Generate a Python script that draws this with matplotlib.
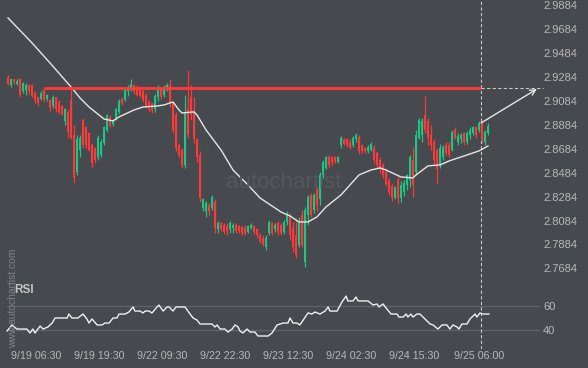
import matplotlib
matplotlib.use("Agg")
import matplotlib.pyplot as plt
from matplotlib.lines import Line2D

# Velas de 30 min (precio), indice = posicion de la vela
opens = [
    2.928, 2.921, 2.926, 2.922, 2.926, 2.916, 2.917, 2.921, 2.921, 2.915,
    2.911, 2.910, 2.917, 2.910, 2.909, 2.904, 2.911, 2.907, 2.904, 2.891,
    2.899, 2.909, 2.880, 2.849, 2.867, 2.892, 2.886, 2.881, 2.871, 2.869,
    2.861, 2.863, 2.873, 2.884, 2.895, 2.889, 2.894, 2.899, 2.910, 2.909,
    2.916, 2.917, 2.921, 2.919, 2.917, 2.916, 2.913, 2.907, 2.906, 2.901,
    2.911, 2.917, 2.913, 2.917, 2.921, 2.906, 2.896, 2.871, 2.867, 2.855,
    2.901, 2.911, 2.899, 2.876, 2.863, 2.819, 2.816, 2.821, 2.819, 2.824,
    2.801, 2.806, 2.805, 2.804, 2.801, 2.802, 2.805, 2.804, 2.803, 2.802,
    2.799, 2.802, 2.804, 2.801, 2.796, 2.794, 2.786, 2.798, 2.806, 2.801,
    2.806, 2.805, 2.799, 2.807, 2.813, 2.802, 2.796, 2.788, 2.813, 2.774,
    2.813, 2.830, 2.817, 2.834, 2.826, 2.846, 2.852, 2.861, 2.861, 2.861,
    2.857, 2.871, 2.876, 2.876, 2.874, 2.871, 2.876, 2.878, 2.871, 2.869,
    2.866, 2.867, 2.869, 2.865, 2.859, 2.855, 2.849, 2.842, 2.837, 2.827,
    2.842, 2.827, 2.832, 2.838, 2.842, 2.859, 2.849, 2.877, 2.880, 2.896,
    2.891, 2.880, 2.874, 2.867, 2.855, 2.861, 2.871, 2.871, 2.867, 2.884,
    2.874, 2.876, 2.881, 2.874, 2.880, 2.881, 2.886, 2.884, 2.890, 2.874,
    2.881,
]
closes = [
    2.922, 2.926, 2.924, 2.925, 2.913, 2.923, 2.921, 2.916, 2.912, 2.909,
    2.906, 2.915, 2.909, 2.913, 2.902, 2.911, 2.901, 2.899, 2.897, 2.901,
    2.882, 2.877, 2.844, 2.876, 2.877, 2.871, 2.871, 2.867, 2.856, 2.859,
    2.877, 2.874, 2.886, 2.896, 2.887, 2.892, 2.901, 2.908, 2.906, 2.917,
    2.920, 2.922, 2.916, 2.913, 2.912, 2.909, 2.904, 2.901, 2.900, 2.912,
    2.917, 2.911, 2.919, 2.921, 2.906, 2.884, 2.869, 2.863, 2.855, 2.899,
    2.880, 2.896, 2.876, 2.861, 2.827, 2.826, 2.823, 2.816, 2.828, 2.802,
    2.806, 2.801, 2.799, 2.800, 2.806, 2.805, 2.800, 2.800, 2.798, 2.797,
    2.804, 2.805, 2.799, 2.796, 2.791, 2.789, 2.794, 2.807, 2.798, 2.805,
    2.799, 2.798, 2.807, 2.814, 2.796, 2.786, 2.780, 2.807, 2.788, 2.817,
    2.828, 2.813, 2.830, 2.821, 2.846, 2.857, 2.861, 2.855, 2.856, 2.857,
    2.861, 2.877, 2.872, 2.871, 2.870, 2.877, 2.880, 2.866, 2.866, 2.866,
    2.870, 2.872, 2.859, 2.855, 2.851, 2.846, 2.839, 2.832, 2.827, 2.836,
    2.827, 2.838, 2.840, 2.846, 2.861, 2.838, 2.880, 2.892, 2.891, 2.884,
    2.877, 2.871, 2.859, 2.851, 2.869, 2.870, 2.865, 2.863, 2.882, 2.877,
    2.879, 2.880, 2.874, 2.881, 2.884, 2.886, 2.880, 2.890, 2.877, 2.882,
    2.887,
]
highs = [
    2.930, 2.926, 2.926, 2.926, 2.927, 2.924, 2.923, 2.922, 2.922, 2.916,
    2.912, 2.916, 2.919, 2.914, 2.910, 2.913, 2.911, 2.909, 2.905, 2.902,
    2.901, 2.919, 2.888, 2.880, 2.880, 2.894, 2.887, 2.882, 2.873, 2.870,
    2.880, 2.876, 2.887, 2.897, 2.896, 2.893, 2.902, 2.910, 2.911, 2.919,
    2.921, 2.926, 2.922, 2.921, 2.919, 2.918, 2.915, 2.909, 2.906, 2.914,
    2.921, 2.919, 2.921, 2.923, 2.926, 2.907, 2.899, 2.873, 2.869, 2.913,
    2.934, 2.921, 2.911, 2.877, 2.866, 2.827, 2.825, 2.823, 2.830, 2.826,
    2.808, 2.807, 2.806, 2.806, 2.808, 2.806, 2.806, 2.805, 2.804, 2.805,
    2.805, 2.806, 2.805, 2.802, 2.798, 2.796, 2.796, 2.809, 2.807, 2.806,
    2.808, 2.806, 2.809, 2.816, 2.815, 2.807, 2.809, 2.811, 2.817, 2.820,
    2.830, 2.831, 2.831, 2.836, 2.849, 2.859, 2.862, 2.863, 2.862, 2.862,
    2.862, 2.879, 2.877, 2.877, 2.876, 2.879, 2.881, 2.880, 2.872, 2.870,
    2.871, 2.874, 2.871, 2.866, 2.861, 2.856, 2.851, 2.844, 2.839, 2.837,
    2.846, 2.841, 2.842, 2.847, 2.863, 2.870, 2.884, 2.894, 2.894, 2.912,
    2.894, 2.888, 2.876, 2.869, 2.872, 2.871, 2.874, 2.874, 2.884, 2.886,
    2.881, 2.881, 2.882, 2.883, 2.886, 2.887, 2.887, 2.891, 2.890, 2.884,
    2.890,
]
lows = [
    2.921, 2.920, 2.922, 2.921, 2.911, 2.915, 2.913, 2.914, 2.911, 2.906,
    2.904, 2.909, 2.907, 2.908, 2.900, 2.902, 2.899, 2.897, 2.896, 2.888,
    2.877, 2.876, 2.840, 2.846, 2.861, 2.869, 2.869, 2.866, 2.853, 2.856,
    2.859, 2.861, 2.871, 2.882, 2.886, 2.887, 2.892, 2.897, 2.905, 2.908,
    2.912, 2.916, 2.914, 2.912, 2.911, 2.907, 2.902, 2.899, 2.898, 2.899,
    2.908, 2.910, 2.911, 2.916, 2.903, 2.881, 2.866, 2.861, 2.852, 2.852,
    2.877, 2.892, 2.873, 2.857, 2.824, 2.816, 2.811, 2.813, 2.817, 2.798,
    2.798, 2.800, 2.797, 2.796, 2.798, 2.798, 2.798, 2.798, 2.796, 2.796,
    2.798, 2.801, 2.797, 2.794, 2.790, 2.787, 2.784, 2.796, 2.796, 2.799,
    2.796, 2.796, 2.797, 2.805, 2.792, 2.782, 2.777, 2.786, 2.786, 2.770,
    2.805, 2.811, 2.815, 2.816, 2.821, 2.844, 2.851, 2.852, 2.854, 2.856,
    2.856, 2.869, 2.871, 2.870, 2.868, 2.870, 2.874, 2.864, 2.865, 2.865,
    2.865, 2.866, 2.856, 2.852, 2.848, 2.844, 2.837, 2.830, 2.825, 2.826,
    2.823, 2.824, 2.829, 2.834, 2.836, 2.828, 2.846, 2.876, 2.874, 2.881,
    2.871, 2.867, 2.855, 2.840, 2.852, 2.859, 2.863, 2.861, 2.866, 2.876,
    2.871, 2.873, 2.871, 2.872, 2.876, 2.880, 2.877, 2.882, 2.873, 2.871,
    2.880,
]

# media movil (muestreada en algunas velas)
ma_idx = [0, 8, 14, 21, 24, 27, 32, 35, 37, 42, 45, 50, 52, 55, 57, 58, 62, 63,
          66, 71, 75, 80, 84, 91, 94, 97, 100, 103, 106, 111, 114, 117, 121, 124,
          126, 131, 135, 136, 140, 144, 147, 153, 157, 160]
ma_vals = [2.9772, 2.9564, 2.9397, 2.9197, 2.9105, 2.9030, 2.8930, 2.8914, 2.8947,
           2.9005, 2.9030, 2.9039, 2.9047, 2.9072, 2.9005, 2.8980, 2.8989, 2.8964,
           2.8839, 2.8672, 2.8505, 2.8380, 2.8272, 2.8155, 2.8122, 2.8072, 2.8072,
           2.8114, 2.8197, 2.8297, 2.8380, 2.8464, 2.8505, 2.8522, 2.8505, 2.8447,
           2.8439, 2.8464, 2.8539, 2.8547, 2.8580, 2.8630, 2.8664, 2.8705]

rsi_idx = [-0.3, 1.3, 3, 6.3, 7.3, 8.3, 9, 10.7, 11.7, 13.3, 14.7, 15.7, 19.7, 20.3,
           21.3, 23.3, 25, 26.3, 27, 28, 29.7, 31.3, 32.3, 33.7, 35, 36.3, 37, 39,
           40.3, 41.7, 42.3, 44, 45, 45.7, 47, 48, 49.7, 50.3, 51.7, 53, 53.7, 55,
           56, 59, 60.7, 61.7, 63, 64, 68, 69, 69.7, 70.7, 72.3, 73.3, 74.7, 75.7,
           76.7, 77.3, 78.3, 79.7, 80.7, 82.3, 83.3, 86.7, 88, 89.7, 91.7, 93.3, 94,
           95, 96.3, 97.3, 100, 101.3, 102.3, 104, 105.7, 106.7, 107.3, 109.7, 111.3,
           112.7, 113.3, 115, 116, 116.7, 120, 121.7, 123, 123.7, 125, 126.3, 127.7,
           129.7, 130.3, 131.7, 132.7, 133.3, 134.3, 135, 136.3, 137.3, 139, 140.7,
           141.7, 143.3, 144.7, 146.3, 147.3, 148.3, 149.7, 150.3, 151.3, 153, 154,
           155.7, 156.3, 157.3, 158.3, 160.3]
rsi_vals = [39.2, 44.2, 40.8, 40.8, 37.5, 40.8, 37.5, 43.3, 40.8, 42.5, 45.8, 50, 50,
            53.3, 50, 50, 53.3, 49.2, 45.8, 49.2, 44.2, 44.2, 45.8, 45.8, 50, 50, 53.3,
            53.3, 55, 59.2, 55.8, 55.8, 54.2, 55.8, 55.8, 54.2, 59.2, 60.8, 55.8, 59.2,
            59.2, 55.8, 59.2, 59.2, 53.3, 50, 48.3, 45, 45, 42.5, 44.2, 40.8, 40.8,
            38.3, 40.8, 44.2, 42.5, 39.2, 37.5, 40.8, 38.3, 38.3, 35, 35, 37.5, 44.2,
            45.8, 45.8, 50, 45.8, 45.8, 44.2, 54.2, 53.3, 55, 53.3, 55.8, 59.2, 55.8,
            55.8, 63.3, 68.3, 64.2, 64.2, 67.5, 64.2, 64.2, 60.8, 61.7, 59.2, 61.7,
            57.5, 53.3, 53.3, 50.8, 50.8, 53.3, 50.8, 53.3, 50.8, 53.3, 53.3, 49.2,
            45, 44.2, 40.8, 44.2, 44.2, 40.8, 44.2, 42.5, 40.8, 45, 45, 49.2, 53.3,
            50.8, 54.2, 53.3, 53.3]

level = 2.9186          # resistencia
level_start = 12
now_idx = 157.5         # 9/25 06:00
arrow_from = (157.7, 2.8897)
arrow_to = (176.3, 2.9180)

price_ticks = [2.7684, 2.7884, 2.8084, 2.8284, 2.8484, 2.8684, 2.8884,
               2.9084, 2.9284, 2.9484, 2.9684, 2.9884]
rsi_ticks = [40, 60]
time_pos = [9.5, 30.5, 51.5, 72.5, 93.5, 114.5, 135.5, 157]
time_labels = ["9/19 06:30", "9/19 19:30", "9/22 09:30", "9/22 22:30",
               "9/23 12:30", "9/24 02:30", "9/24 15:30", "9/25 06:00"]

BG = "#46494e"
GREEN = "#1ec583"
RED = "#ff3838"
TXT = "#b8b8b8"
W, H = 588, 368

plt.rcParams["font.family"] = ["Liberation Sans", "DejaVu Sans"]

fig = plt.figure(figsize=(W / 100, H / 100), dpi=100, facecolor=BG)
ax = fig.add_axes([0, (H - 288) / H, 540 / W, 288 / H], facecolor=BG)
ax_rsi = fig.add_axes([0, (H - 349) / H, 540 / W, 61 / H], facecolor=BG)

xlim = (-8 / 3, 532 / 3)

# velas
idx = list(range(len(closes)))
cols = [GREEN if c >= o else RED for o, c in zip(opens, closes)]
ax.vlines(idx, lows, highs, colors=cols, linewidth=0.9, zorder=2)
ax.bar(idx, [max(abs(c - o), 0.0004) for o, c in zip(opens, closes)],
       bottom=[min(o, c) for o, c in zip(opens, closes)],
       width=0.62, color=cols, linewidth=0, zorder=3)

ax.plot(ma_idx, ma_vals, color="#e6e6e6", linewidth=1.0, zorder=4)
ax.hlines(level, level_start, now_idx, colors=RED, linewidth=2.1, zorder=5)
ax.hlines(level, now_idx, xlim[1] + 1, colors="#c8c8c8", linewidth=0.8,
          linestyles=(0, (3, 2)), zorder=5, clip_on=False)
ax.annotate("", xy=arrow_to, xytext=arrow_from,
            arrowprops=dict(arrowstyle="->", color="#e6e6e6", lw=1.0,
                            mutation_scale=10, shrinkA=0, shrinkB=0),
            zorder=6, annotation_clip=False)

ax.set_xlim(*xlim)
ax.set_ylim(2.99215 - 288 / 1200, 2.99215)
ax.yaxis.tick_right()
ax.set_yticks(price_ticks)
ax.set_yticklabels([f"{t:.4f}" for t in price_ticks])
ax.set_xticks([])

# RSI
ax_rsi.plot(rsi_idx, rsi_vals, color="#f0f0f0", linewidth=1.0, zorder=3)
for v in rsi_ticks:
    ax_rsi.axhline(v, xmin=7 / 540, color="#5f6267", linewidth=1.0, zorder=1)
ax_rsi.set_xlim(*xlim)
ax_rsi.set_ylim(24.17, 75)
ax_rsi.yaxis.tick_right()
ax_rsi.set_yticks(rsi_ticks)
ax_rsi.set_xticks(time_pos)
ax_rsi.set_xticklabels(time_labels)
ax_rsi.text(14 / 540, 0.96, "RSI", transform=ax_rsi.transAxes, color="#c4c4c4",
            fontsize=8.5, fontweight="bold", va="center", ha="left", zorder=2)

for a in (ax, ax_rsi):
    for s in a.spines.values():
        s.set_visible(False)
    a.tick_params(axis="y", length=0, pad=2.3, labelsize=8, labelcolor=TXT)
    a.tick_params(axis="x", length=0, pad=1.5, labelsize=7.7, labelcolor=TXT)
    a.axvline(now_idx, color="#c8c8c8", linewidth=0.8, linestyle=(0, (3, 2)), zorder=1)

# marcas de agua
fig.text(13 / W, 1 - 298 / H, "www.autochartist.com", rotation=90, color="#808388",
         fontsize=7.4, ha="center", va="center")
fig.text(226 / W, 1 - 183 / H, "autochartist", color="#54575c", fontsize=16,
         ha="left", va="center")
for bx, y1, y2 in [(195, 184, 189), (201, 175, 189), (207, 167, 180), (213, 168, 178),
                   (220, 169, 175), (227, 165, 173), (235, 159, 169), (243, 157, 167)]:
    fig.add_artist(Line2D([bx / W, bx / W], [1 - y1 / H, 1 - y2 / H],
                          transform=fig.transFigure, color="#54575c", linewidth=2.2,
                          solid_capstyle="round", zorder=0))

fig.savefig("out.png", dpi=100, facecolor=BG)
